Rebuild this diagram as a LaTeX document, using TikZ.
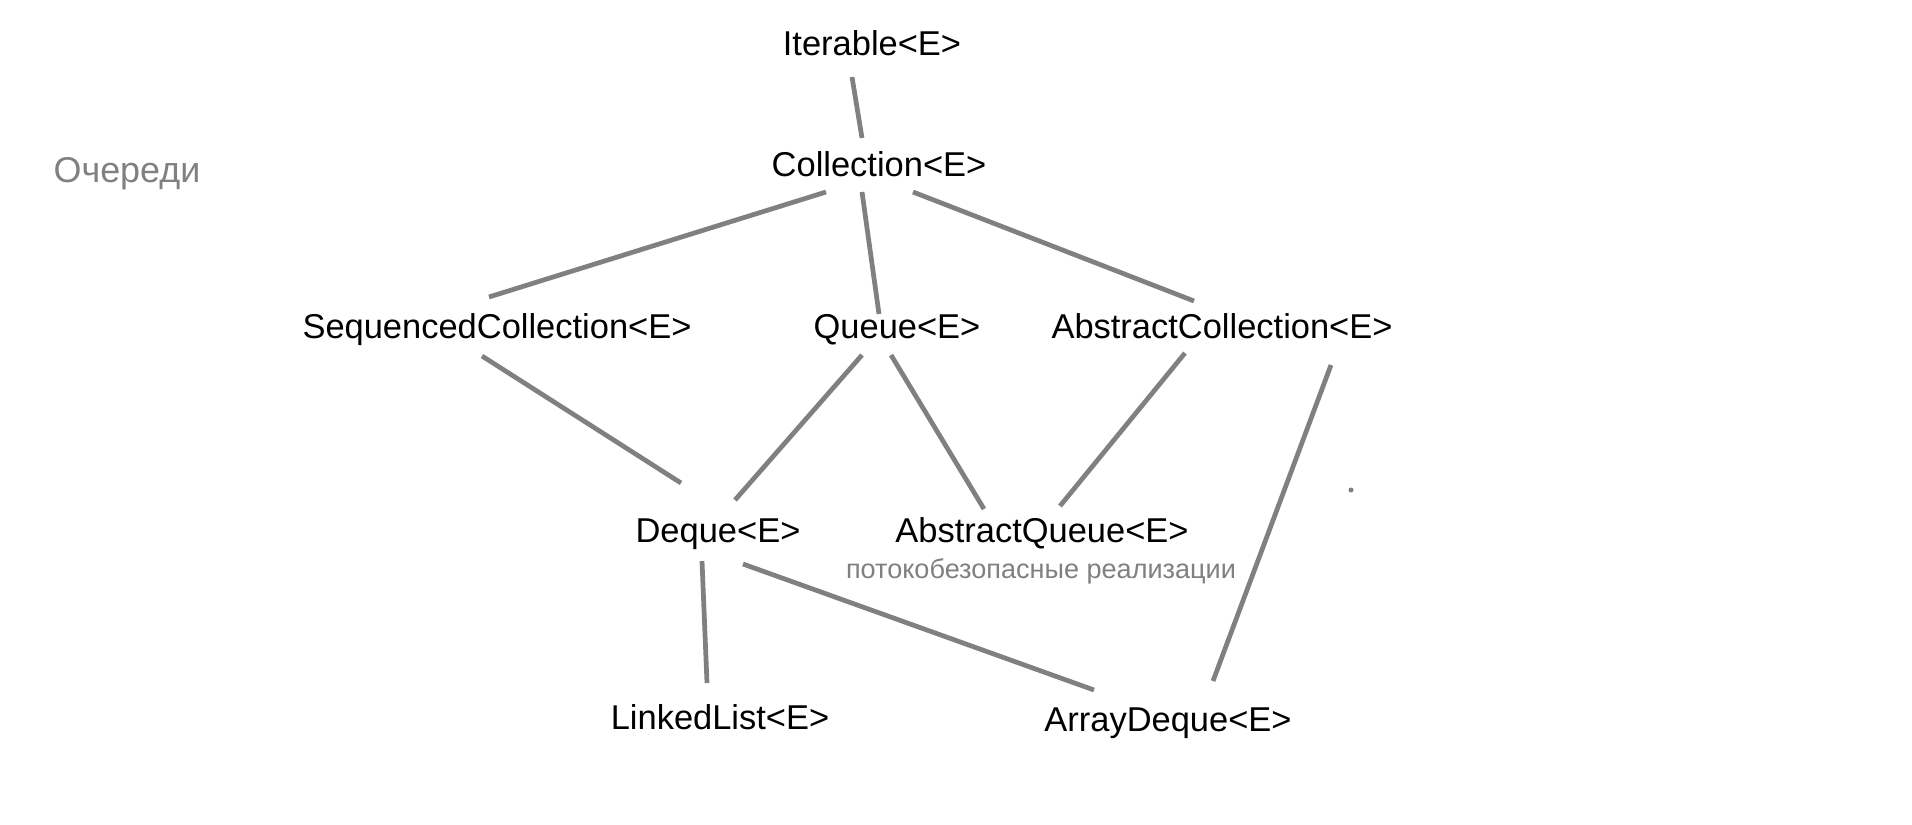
\documentclass[tikz,border=0pt]{standalone}
\usepackage{fontspec}
\setmainfont{Liberation Sans}
\usetikzlibrary{calc}
\definecolor{linegray}{RGB}{128,128,128}
\tikzset{
  cls/.style={anchor=base, inner sep=0pt, font=\fontsize{9.8}{12}\selectfont},
  title/.style={anchor=base west, inner sep=0pt, text=linegray, font=\fontsize{10.2}{12}\selectfont},
  note/.style={anchor=base, inner sep=0pt, text=linegray, font=\fontsize{7.7}{9}\selectfont},
  edge/.style={draw=linegray, line width=1.35pt}
}
\begin{document}
\begin{tikzpicture}[x=0.01cm, y=-0.01cm]
\useasboundingbox (0,0) rectangle (1912,824);
% classes and interfaces
\node[title] (queues) at (53,182) {Очереди};
\node[cls] (iter) at (872,55) {Iterable<E>};
\node[cls] (coll) at (879,176) {Collection<E>};
\node[cls] (seq) at (497,338) {SequencedCollection<E>};
\node[cls] (queue) at (897,338) {Queue<E>};
\node[cls] (absc) at (1222,338) {AbstractCollection<E>};
\node[cls] (deque) at (718,542) {Deque<E>};
\node[cls] (absq) at (1042,542) {AbstractQueue<E>};
\node[note] (safe) at (1041,578) {потокобезопасные реализации};
\node[cls] (linked) at (720,729) {LinkedList<E>};
\node[cls] (arrd) at (1168,731) {ArrayDeque<E>};
% inheritance lines
\draw[edge] ($(iter.base)+(-20,22)$) -- ($(coll.base)+(-17,-38)$);
\draw[edge] ($(coll.base)+(-53,16)$) -- ($(seq.base)+(-8,-41)$);
\draw[edge] ($(coll.base)+(-17,16)$) -- ($(queue.base)+(-18,-24)$);
\draw[edge] ($(coll.base)+(34,16)$) -- ($(absc.base)+(-28,-37)$);
\draw[edge] ($(seq.base)+(-15,18)$) -- ($(deque.base)+(-37,-59)$);
\draw[edge] ($(queue.base)+(-35,17)$) -- ($(deque.base)+(17,-42)$);
\draw[edge] ($(queue.base)+(-6,17)$) -- ($(absq.base)+(-58,-33)$);
\draw[edge] ($(absc.base)+(-37,15)$) -- ($(absq.base)+(18,-36)$);
\draw[edge] ($(absc.base)+(109,27)$) -- ($(arrd.base)+(45,-50)$);
\draw[edge] ($(deque.base)+(-16,19)$) -- ($(linked.base)+(-13,-46)$);
\draw[edge] ($(deque.base)+(25,22)$) -- ($(arrd.base)+(-74,-41)$);
% stray dot
\fill[linegray] (1351,490) circle (2.5);
\end{tikzpicture}
\end{document}
